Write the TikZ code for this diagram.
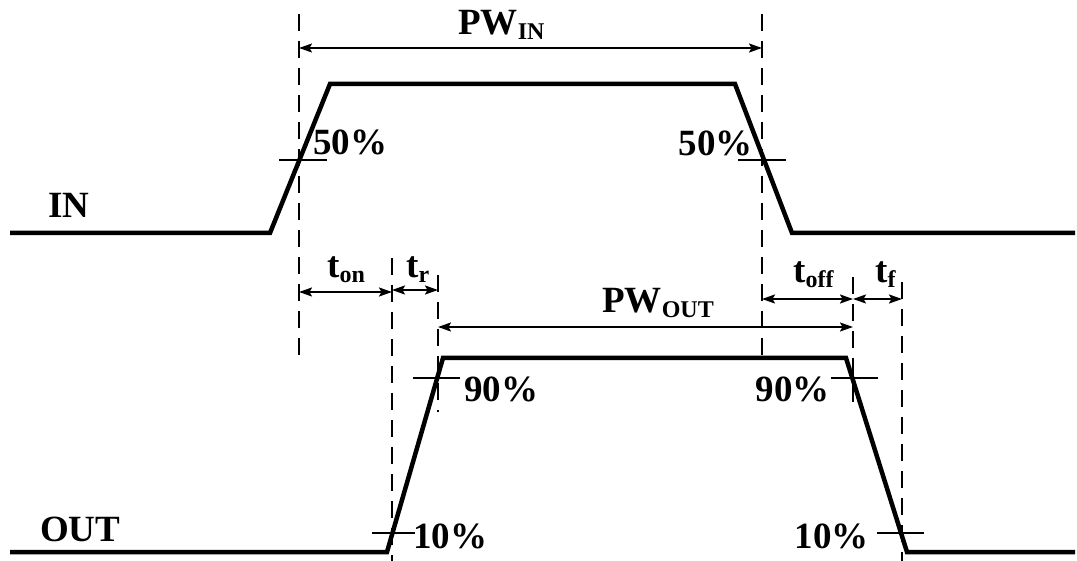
\documentclass[tikz,border=0pt]{standalone}
\usepackage{fontspec}
\setmainfont{Liberation Serif}
\usetikzlibrary{arrows.meta}
\newcommand{\sbs}[1]{\raisebox{-5pt}{\fontsize{24}{26}\selectfont #1}}
\begin{document}
\begin{tikzpicture}[x=1pt,y=-1pt,
  wave/.style={line width=4.5pt,line join=miter},
  guide/.style={line width=2.6pt,dash pattern=on 17pt off 10pt},
  tick/.style={line width=2pt},
  dim/.style={line width=2pt,{Stealth[length=13pt,width=9pt,inset=2.5pt]}-{Stealth[length=13pt,width=9pt,inset=2.5pt]}},
  lbl/.style={inner sep=0pt,font=\fontsize{37}{40}\selectfont\bfseries}]
\useasboundingbox (0,0) rectangle (1077,561);
% waveforms
\draw[wave] (10,233) -- (270,233) -- (330,84) -- (735,84) -- (792,233) -- (1075,233);
\draw[wave] (10,552) -- (387,552) -- (443,358) -- (846,358) -- (907,552) -- (1075,552);
% guide coordinates
\coordinate (g1t) at (299,14);  \coordinate (g1b) at (299,357);
\coordinate (g2t) at (762,14);  \coordinate (g2b) at (762,357);
\coordinate (g3t) at (392,258); \coordinate (g3b) at (392,561);
\coordinate (g4t) at (438,275); \coordinate (g4b) at (438,412);
\coordinate (g5t) at (853,277); \coordinate (g5b) at (853,410);
\coordinate (g6t) at (902,282); \coordinate (g6b) at (902,561);
\draw[guide] (g1t) -- (g1b);
\draw[guide] (g2t) -- (g2b);
\draw[guide] (g3t) -- (g3b);
\draw[guide] (g4t) -- (g4b);
\draw[guide] (g5t) -- (g5b);
\draw[guide] (g6t) -- (g6b);
% level ticks
\coordinate (k1a) at (279,160); \coordinate (k1b) at (327,160);
\coordinate (k2a) at (738,160); \coordinate (k2b) at (786,160);
\coordinate (k3a) at (413,378); \coordinate (k3b) at (460,378);
\coordinate (k4a) at (831,378); \coordinate (k4b) at (878,378);
\coordinate (k5a) at (372,533); \coordinate (k5b) at (415,533);
\coordinate (k6a) at (877,533); \coordinate (k6b) at (924,533);
\draw[tick] (k1a) -- (k1b);
\draw[tick] (k2a) -- (k2b);
\draw[tick] (k3a) -- (k3b);
\draw[tick] (k4a) -- (k4b);
\draw[tick] (k5a) -- (k5b);
\draw[tick] (k6a) -- (k6b);
% dimension arrows
\coordinate (pwia) at (299,48);  \coordinate (pwib) at (762,48);
\coordinate (tona) at (299,292); \coordinate (tonb) at (392,292);
\coordinate (tra)  at (392,290); \coordinate (trb)  at (438,290);
\coordinate (pwoa) at (438,327); \coordinate (pwob) at (853,327);
\coordinate (toffa) at (762,299); \coordinate (toffb) at (853,299);
\coordinate (tfa)  at (853,299); \coordinate (tfb)  at (902,299);
\draw[dim] (pwia) -- (pwib);
\draw[dim] (tona) -- (tonb);
\draw[dim] (tra) -- (trb);
\draw[dim] (pwoa) -- (pwob);
\draw[dim] (toffa) -- (toffb);
\draw[dim] (tfa) -- (tfb);
% labels
\node[lbl,anchor=base west] (lin) at (48,218) {IN};
\node[lbl,anchor=base west] (lout) at (40,541) {OUT};
\node[lbl,anchor=base west] (pwin) at (458,35) {PW\sbs{IN}};
\node[lbl,anchor=base west] (pwout) at (602,313) {PW\sbs{OUT}};
\node[lbl,anchor=base west] (l50a) at (313,155) {50\%};
\node[lbl,anchor=base east] (l50b) at (753,156) {50\%};
\node[lbl,anchor=base west] (l90a) at (464,402) {90\%};
\node[lbl,anchor=base east] (l90b) at (830,402) {90\%};
\node[lbl,anchor=base west] (l10a) at (413,548) {10\%};
\node[lbl,anchor=base east] (l10b) at (869,548) {10\%};
\node[lbl,anchor=base west] (ton) at (327,278) {t\sbs{on}};
\node[lbl,anchor=base west] (tr) at (406,278) {t\sbs{r}};
\node[lbl,anchor=base west] (toff) at (793,283) {t\sbs{off}};
\node[lbl,anchor=base west] (tf) at (875,283) {t\sbs{f}};
\end{tikzpicture}
\end{document}
